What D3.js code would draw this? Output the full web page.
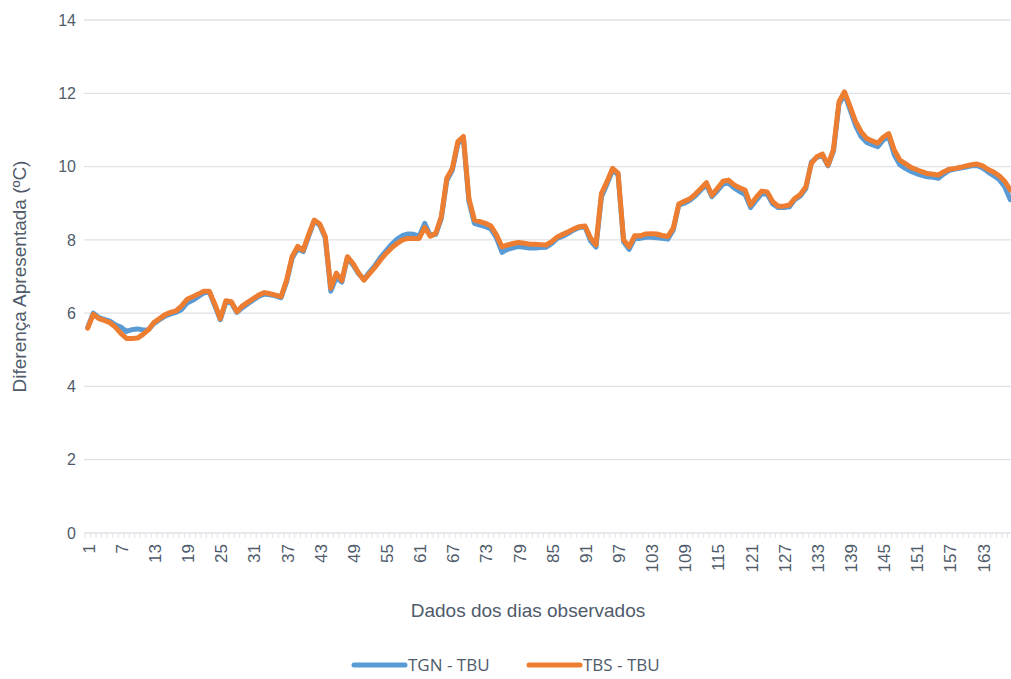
<!DOCTYPE html>
<html>
<head>
<meta charset="utf-8">
<script src="https://cdn.jsdelivr.net/npm/d3@7"></script>
<style>
  body { margin: 0; background: #fff; }
  text { font-family: "Liberation Sans", Arial, sans-serif; fill: #4f5b6b; }
</style>
</head>
<body>
<script>
var tgnTbu = [
  5.62, 6.00, 5.88, 5.83, 5.78, 5.68, 5.62, 5.50, 5.55, 5.57,
  5.54, 5.55, 5.72, 5.82, 5.92, 5.98, 6.02, 6.10, 6.28, 6.35,
  6.45, 6.55, 6.58, 6.20, 5.82, 6.30, 6.28, 6.02, 6.15, 6.26,
  6.36, 6.46, 6.52, 6.50, 6.47, 6.42, 6.85, 7.50, 7.75, 7.68,
  8.10, 8.52, 8.40, 8.05, 6.60, 6.98, 6.85, 7.50, 7.32, 7.08,
  6.92, 7.12, 7.30, 7.52, 7.70, 7.88, 8.02, 8.12, 8.16, 8.15,
  8.10, 8.45, 8.12, 8.15, 8.58, 9.62, 9.90, 10.62, 10.78, 9.05,
  8.45, 8.40, 8.36, 8.30, 8.05, 7.66, 7.74, 7.78, 7.82, 7.80,
  7.78, 7.78, 7.79, 7.80, 7.90, 8.04, 8.10, 8.18, 8.27, 8.34,
  8.36, 7.98, 7.80, 9.18, 9.52, 9.90, 9.78, 7.95, 7.74, 8.04,
  8.04, 8.07, 8.07, 8.06, 8.04, 8.02, 8.27, 8.95, 9.00, 9.08,
  9.20, 9.36, 9.50, 9.18, 9.34, 9.52, 9.55, 9.42, 9.32, 9.24,
  8.88, 9.08, 9.26, 9.25, 8.98, 8.88, 8.88, 8.90, 9.10, 9.20,
  9.40, 10.12, 10.25, 10.30, 10.02, 10.42, 11.70, 11.98, 11.55, 11.12,
  10.82, 10.66, 10.60, 10.54, 10.72, 10.82, 10.32, 10.05, 9.95, 9.87,
  9.81, 9.76, 9.72, 9.71, 9.68, 9.80, 9.90, 9.93, 9.96, 9.99,
  10.02, 10.03, 9.96, 9.85, 9.75, 9.65, 9.45, 9.10
];

var tbsTbu = [
  5.59, 5.97, 5.85, 5.80, 5.74, 5.62, 5.45, 5.31, 5.31, 5.32,
  5.42, 5.55, 5.75, 5.85, 5.96, 6.02, 6.06, 6.20, 6.38, 6.45,
  6.52, 6.60, 6.60, 6.25, 5.85, 6.34, 6.31, 6.04, 6.20, 6.30,
  6.40, 6.50, 6.56, 6.53, 6.49, 6.45, 6.90, 7.55, 7.82, 7.72,
  8.15, 8.54, 8.43, 8.09, 6.68, 7.09, 6.89, 7.54, 7.36, 7.10,
  6.90, 7.08, 7.25, 7.45, 7.63, 7.78, 7.90, 8.00, 8.04, 8.04,
  8.04, 8.34, 8.10, 8.18, 8.63, 9.68, 9.95, 10.68, 10.82, 9.13,
  8.54, 8.50, 8.45, 8.38, 8.13, 7.81, 7.86, 7.90, 7.93, 7.91,
  7.88, 7.88, 7.87, 7.86, 7.95, 8.08, 8.15, 8.22, 8.30, 8.36,
  8.38, 8.06, 7.86, 9.27, 9.59, 9.95, 9.82, 8.00, 7.81, 8.11,
  8.11, 8.16, 8.17, 8.16, 8.12, 8.09, 8.32, 8.98, 9.05, 9.12,
  9.25, 9.40, 9.56, 9.22, 9.41, 9.60, 9.63, 9.50, 9.42, 9.36,
  8.95, 9.16, 9.33, 9.31, 9.04, 8.92, 8.92, 8.95, 9.13, 9.24,
  9.45, 10.09, 10.27, 10.34, 10.04, 10.47, 11.77, 12.04, 11.64, 11.23,
  10.95, 10.77, 10.70, 10.64, 10.80, 10.90, 10.45, 10.18, 10.08, 9.98,
  9.92, 9.86, 9.81, 9.79, 9.77, 9.86, 9.93, 9.95, 9.98, 10.02,
  10.05, 10.07, 10.02, 9.92, 9.85, 9.75, 9.60, 9.36
];

var seriesNames = ["TGN - TBU", "TBS - TBU"];
var seriesColors = ["#5b9bd5", "#ed7d31"];
var yTicks = [0, 2, 4, 6, 8, 10, 12, 14];
var days = d3.range(1, tgnTbu.length + 1);
var labelDays = days.filter(function(d) { return (d - 1) % 6 == 0; });

var W = 1011, H = 679;
var plotLeft = 85, plotRight = 1013, plotTop = 20, plotBottom = 533;

var svg = d3.select("body").append("svg")
  .attr("width", W)
  .attr("height", H);

var x = d3.scaleBand().domain(days).range([plotLeft, plotRight]).padding(0);
var y = d3.scaleLinear().domain([0, 14]).range([plotBottom, plotTop]);

// horizontal gridlines
svg.append("g")
  .selectAll("line")
  .data(yTicks)
  .enter()
  .append("line")
  .attr("x1", plotLeft - 1)
  .attr("x2", W)
  .attr("y1", function(d) { return y(d); })
  .attr("y2", function(d) { return y(d); })
  .attr("stroke", "#dfe2e7")
  .attr("stroke-width", 1.3);

// y labels
svg.append("g")
  .selectAll("text")
  .data(yTicks)
  .enter()
  .append("text")
  .attr("x", 76)
  .attr("y", function(d) { return y(d); })
  .attr("dy", "0.36em")
  .attr("text-anchor", "end")
  .style("font-size", "16px")
  .text(function(d) { return d; });

// x axis with small ticks at every day boundary
var xAxis = d3.axisBottom(x)
  .tickValues(labelDays)
  .tickSize(0)
  .tickPadding(0);

var gx = svg.append("g")
  .attr("transform", "translate(0," + plotBottom + ")")
  .call(xAxis);
gx.select(".domain").remove();
gx.selectAll(".tick text")
  .attr("transform", "rotate(-90)")
  .attr("x", -11)
  .attr("y", 1)
  .attr("dy", "0.35em")
  .attr("text-anchor", "end")
  .style("font-size", "17px")
  .style("font-family", "Liberation Sans, Arial, sans-serif")
  .attr("fill", "#4f5b6b");

svg.append("g")
  .selectAll("line")
  .data(days)
  .enter()
  .append("line")
  .attr("x1", function(d) { return x(d); })
  .attr("x2", function(d) { return x(d); })
  .attr("y1", plotBottom)
  .attr("y2", plotBottom + 5)
  .attr("stroke", "#dfe2e7")
  .attr("stroke-width", 1);

// lines
var line = d3.line()
  .x(function(d, i) { return x(days[i]) + x.bandwidth() / 2; })
  .y(function(d) { return y(d); });

[tgnTbu, tbsTbu].forEach(function(s, k) {
  svg.append("path")
    .datum(s)
    .attr("d", line)
    .attr("fill", "none")
    .attr("stroke", seriesColors[k])
    .attr("stroke-width", 5)
    .attr("stroke-linejoin", "round")
    .attr("stroke-linecap", "round");
});

// axis titles
svg.append("text")
  .attr("x", 528)
  .attr("y", 617)
  .attr("text-anchor", "middle")
  .style("font-size", "19px")
  .text("Dados dos dias observados");

svg.append("text")
  .attr("transform", "translate(26," + ((plotTop + plotBottom) / 2) + ") rotate(-90)")
  .attr("text-anchor", "middle")
  .style("font-size", "19px")
  .text("Diferença Apresentada (ºC)");

// legend
var legendX = [354, 529];
var legend = svg.selectAll(".legend")
  .data(seriesNames)
  .enter()
  .append("g")
  .attr("transform", function(d, i) { return "translate(" + legendX[i] + ",665)"; });

legend.append("line")
  .attr("x1", 0)
  .attr("x2", 51)
  .attr("stroke", function(d, i) { return seriesColors[i]; })
  .attr("stroke-width", 5)
  .attr("stroke-linecap", "round");

legend.append("text")
  .attr("x", 54)
  .attr("dy", "0.36em")
  .style("font-size", "17px")
  .style("font-family", "Open Sans, sans-serif")
  .text(function(d) { return d; });
</script>
</body>
</html>
